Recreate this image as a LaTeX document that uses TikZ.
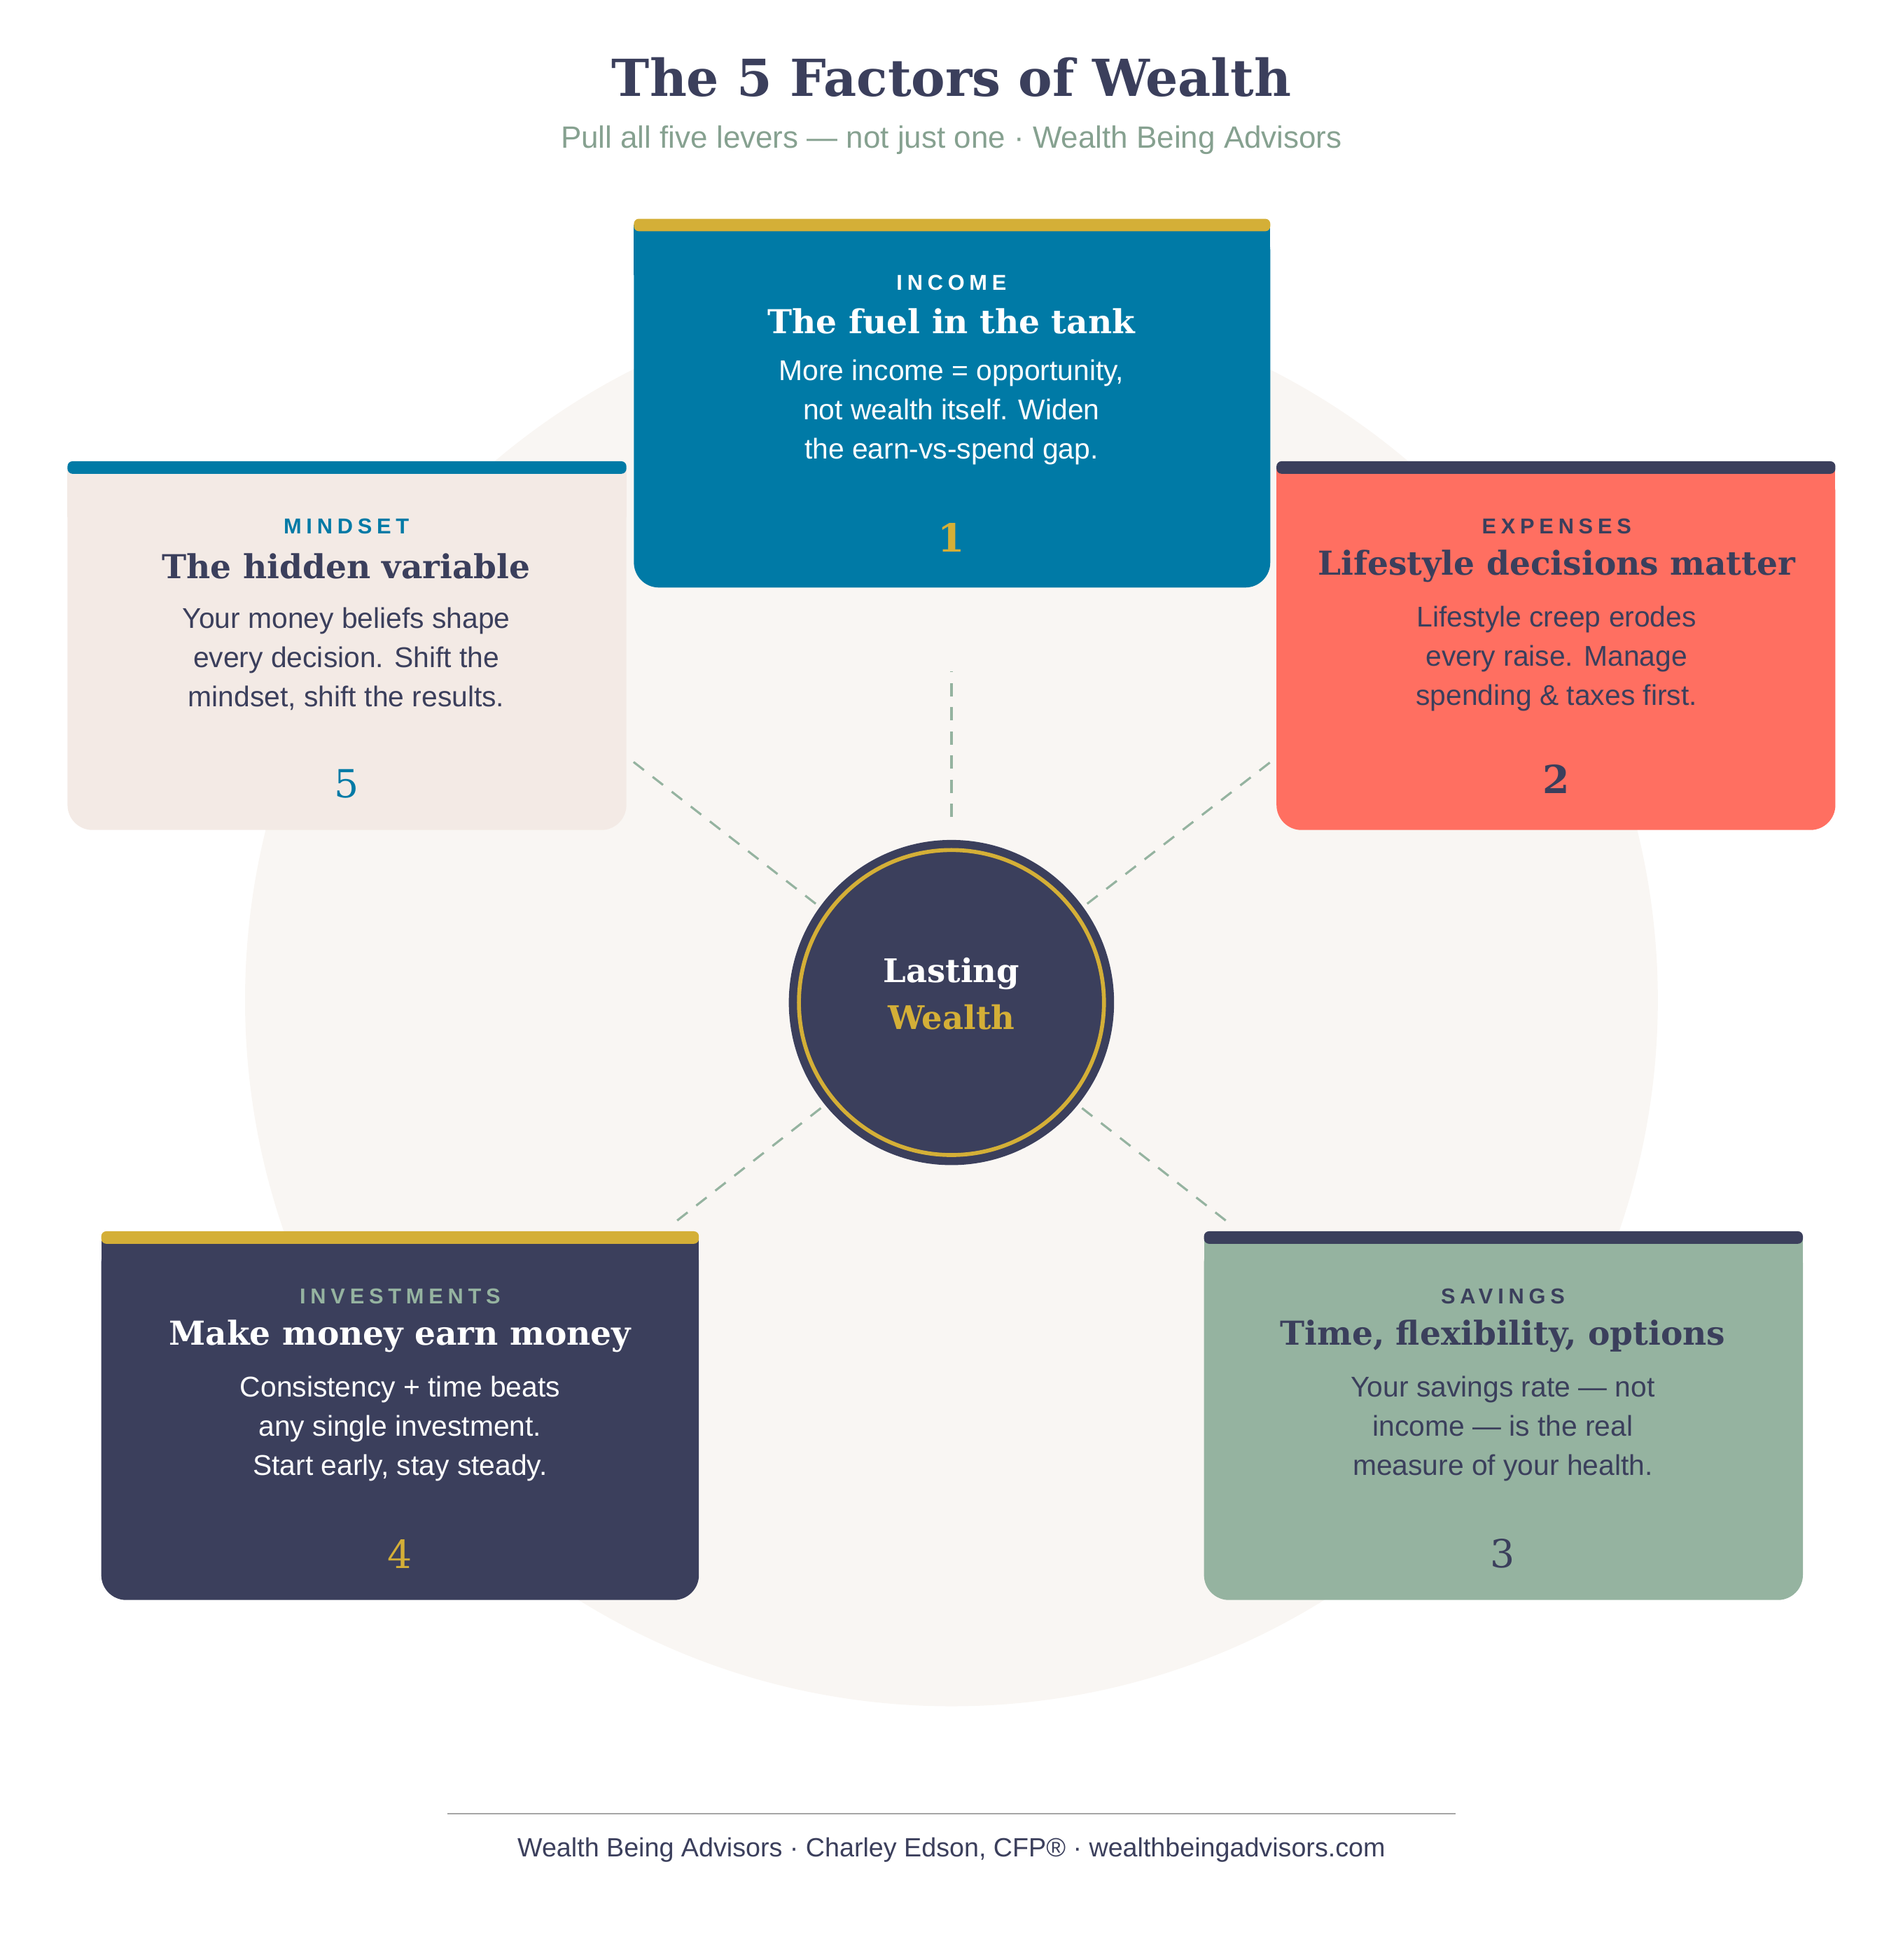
\documentclass[tikz,border=0pt]{standalone}
\usepackage{fontspec}
\setmainfont{DejaVu Serif}
\setsansfont{Liberation Sans}
\newfontfamily\labelfont[LetterSpace=22]{Liberation Sans}
\usetikzlibrary{positioning}

\definecolor{navy}{HTML}{3B3F5C}
\definecolor{ocean}{HTML}{007AA6}
\definecolor{gold}{HTML}{D4AF37}
\definecolor{coral}{HTML}{FF6F61}
\definecolor{sage}{HTML}{95B3A0}
\definecolor{cream}{HTML}{F3EAE5}
\definecolor{shell}{HTML}{F9F6F3}

\tikzset{
  tag/.style={font=\labelfont\bfseries\fontsize{4.9}{6}\selectfont},
  head/.style={font=\bfseries\fontsize{7.5}{10}\selectfont},
  body/.style={font=\sffamily\fontsize{6.5}{8.9}\selectfont, align=center},
  num/.style={font=\fontsize{8.8}{11}\selectfont},
  spoke/.style={sage, dashed, line width=0.5pt, dash pattern=on 3pt off 2.5pt},
}

\begin{document}
\begin{tikzpicture}[x=0.01cm, y=-0.01cm]
        \useasboundingbox (0,0) rectangle (1522,1568);
        % Background disc
        \fill[shell] (761,800) circle (565);

        % Title
        \node[navy, font=\bfseries\fontsize{11.6}{15}\selectfont] (title) at (761,62) {The 5 Factors of Wealth};
        \node[sage!90!black, font=\sffamily\fontsize{7}{8}\selectfont] (subtitle) at (761,112) {Pull all five levers — not just one · Wealth Being Advisors};

        % Spokes
        \node[circle, fill=navy, minimum size=2.6cm, inner sep=0pt] (core) at (761,802) {};
        \coordinate (s1) at (761,537);
        \coordinate (s2) at (1017,609);
        \coordinate (s3) at (985,980);
        \coordinate (s4) at (537,980);
        \coordinate (s5) at (506,609);
        \draw[spoke, shorten <=5] (core.90) -- (s1);
        \draw[spoke, shorten <=1] (core.36) -- (s2);
        \draw[spoke, shorten <=1] (core.-39) -- (s3);
        \draw[spoke, shorten <=1] (core.-141) -- (s4);
        \draw[spoke, shorten <=1] (core.144) -- (s5);

        % Centre
        \draw[gold, line width=0.9pt] (core.center) circle (122);
        \node[white, font=\bfseries\fontsize{7.4}{10}\selectfont] (lasting) at (761,779) {Lasting};
        \node[gold, font=\bfseries\fontsize{7.4}{10}\selectfont] (wealth) at (761,814) {Wealth};

        % Income
        \fill[ocean, rounded corners=0.2cm] (507,180) rectangle (1016,470);
        \fill[ocean] (507,180) rectangle (1016,220);
        \fill[gold, rounded corners=0.04cm] (507,175) rectangle (1016,185);
        \node[tag, white] (incometag) at (761,226) {INCOME};
        \node[head, white] (incomehead) at (761,257) {The fuel in the tank};
        \node[body, white] (incomebody) at (761,330) {More income = opportunity,\\not wealth itself. Widen\\the earn-vs-spend gap.};
        \node[num, gold] (incomenum) at (761,430) {\bfseries 1};

        % Expenses
        \fill[coral, rounded corners=0.2cm] (1021,374) rectangle (1468,664);
        \fill[coral] (1021,374) rectangle (1468,414);
        \fill[navy, rounded corners=0.04cm] (1021,369) rectangle (1468,379);
        \node[tag, navy] (expensetag) at (1245,421) {EXPENSES};
        \node[head, navy] (expensehead) at (1245,453) {Lifestyle decisions matter};
        \node[body, navy] (expensebody) at (1245,527) {Lifestyle creep erodes\\every raise. Manage\\spending \& taxes first.};
        \node[num, navy] (expensenum) at (1245,623) {\bfseries 2};

        % Mindset
        \fill[cream, rounded corners=0.2cm] (54,374) rectangle (501,664);
        \fill[cream] (54,374) rectangle (501,414);
        \fill[ocean, rounded corners=0.04cm] (54,369) rectangle (501,379);
        \node[tag, ocean] (mindtag) at (277,421) {MINDSET};
        \node[head, navy] (mindhead) at (277,453) {The hidden variable};
        \node[body, navy] (mindbody) at (277,527) {Your money beliefs shape\\every decision. Shift the\\mindset, shift the results.};
        \node[num, ocean] (mindnum) at (277,627) {5};

        % Investments
        \fill[navy, rounded corners=0.2cm] (81,990) rectangle (559,1280);
        \fill[navy] (81,990) rectangle (559,1030);
        \fill[gold, rounded corners=0.04cm] (81,985) rectangle (559,995);
        \node[tag, sage] (investtag) at (320,1037) {INVESTMENTS};
        \node[head, white] (investhead) at (320,1069) {Make money earn money};
        \node[body, white] (investbody) at (320,1143) {Consistency + time beats\\any single investment.\\Start early, stay steady.};
        \node[num, gold] (investnum) at (320,1243) {4};

        % Savings
        \fill[sage, rounded corners=0.2cm] (963,990) rectangle (1442,1280);
        \fill[sage] (963,990) rectangle (1442,1030);
        \fill[navy, rounded corners=0.04cm] (963,985) rectangle (1442,995);
        \node[tag, navy] (savetag) at (1202,1037) {SAVINGS};
        \node[head, navy] (savehead) at (1202,1069) {Time, flexibility, options};
        \node[body, navy] (savebody) at (1202,1143) {Your savings rate — not\\income — is the real\\measure of your health.};
        \node[num, navy] (savenum) at (1202,1243) {3};

        % Footer
        \draw[gray!70, line width=0.4pt] (358,1451) -- (1164,1451);
        \node[navy, font=\sffamily\fontsize{6}{7}\selectfont] (footer) at (761,1480) {Wealth Being Advisors · Charley Edson, CFP® · wealthbeingadvisors.com};
    \end{tikzpicture}
\end{document}
